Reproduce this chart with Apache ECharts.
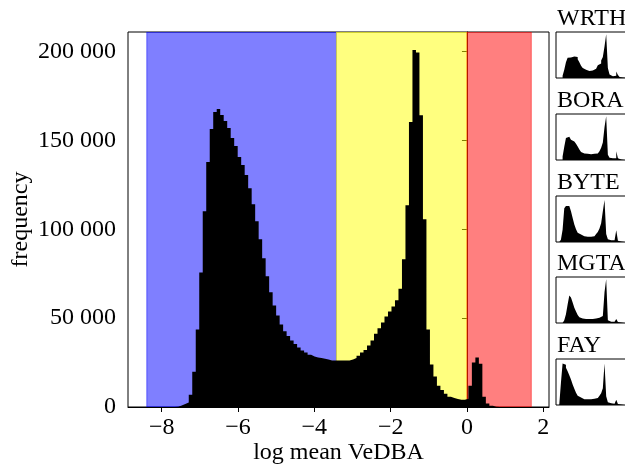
<!DOCTYPE html>
<html><head><meta charset="utf-8">
<script src="https://cdn.jsdelivr.net/npm/echarts@6/dist/echarts.min.js"></script>
<style>html,body{margin:0;padding:0;background:#fff}#c{width:625px;height:466px}</style>
</head><body><div id="c"></div>
<script>
// ---- main histogram (110 bins) ----
const binStart = -8.39;
const binWidth = 0.0916;
const counts = [
  0,0,0,0,0,0,0,0,200,800,
  1700,2600,6900,19900,43600,75700,110100,137800,156400,166000,
  167700,164300,160900,157000,151300,146800,140600,136100,130500,123100,
  114100,104500,94400,83700,73500,64600,57100,51500,46400,42600,
  40000,37400,35500,33500,31800,30600,29400,28400,27800,27600,
  27200,26700,26100,26100,26100,26100,26100,26100,26700,27600,
  28800,30600,32100,34600,37400,41200,44300,47600,50900,53700,
  56600,60000,66500,83100,113500,160300,200900,199400,164100,105600,
  43600,23900,17100,12000,9600,7500,5800,5100,4500,4100,
  4100,4700,12000,25000,27800,24400,5800,1900,700,200,
  0,0,0,0,0,0,0,0,0,0
];
// activity bands (x ranges)
const bandStarts = [-8.39, -3.42, 0.0];
const bandEnds   = [-3.42, 0.0, 1.686];
const xTicks = [-8, -6, -4, -2, 0, 2];
const yTicks = [0, 50000, 100000, 150000, 200000];

// ---- small per-individual histograms (40 bins, relative heights) ----
const panelNames = ['WRTH', 'BORA', 'BYTE', 'MGTA', 'FAY'];
const panelBinStart = -8.4;
const panelBinWidth = 0.25;
const wrth = [0,0,5,19,36,46,47,47,49,51,48,43,36,28,23,19,17,16,16,17,18,21,24,29,33,40,48,72,100,23,8,4,4,5,15,7,2,1,0,0];
const bora = [0,0,8,30,50,53,50,46,42,40,37,31,24,18,15,14,14,13,13,13,14,14,15,16,20,28,40,75,100,12,5,4,4,4,20,4,1,0,0,0];
const byte = [0,5,28,77,82,82,79,70,55,40,29,21,17,15,13,12,12,12,12,12,13,15,18,23,31,43,70,96,18,6,4,4,4,4,27,3,1,0,0,0];
const mgta = [0,0,0,6,20,42,63,58,47,35,26,18,13,10,9,9,9,9,9,9,9,10,11,12,14,16,20,70,100,6,3,3,3,3,9,2,1,0,0,0];
const fay  = [0,50,95,92,85,77,68,58,47,37,28,21,17,14,13,13,13,13,13,13,14,15,16,18,21,27,38,95,20,6,4,3,3,3,12,2,1,0,0,0];
const panelValues = [wrth, bora, byte, mgta, fay];

// ---- styling / layout ----
const FONT = "'Liberation Serif', 'DejaVu Serif', serif";
const bandColors = ['rgba(0,0,255,0.5)', 'rgba(255,255,0,0.5)', 'rgba(255,0,0,0.5)'];
const X_MIN = -8.883, X_MAX = 2.15, Y_MAX = 211000;
const panelTops = [32, 114, 196, 277, 359];

function stepData(start, w, vals) {
  const d = vals.map((v, i) => [start + i * w, v]);
  d.push([start + vals.length * w, vals[vals.length - 1]]);
  return d;
}
function fmtNum(v) {
  return String(v).replace(/\B(?=(\d{3})+(?!\d))/g, ' ');
}
function fmtX(v) {
  return v < 0 ? '\u2212' + Math.abs(v) : String(v);
}

const grids = [{ left: 128, top: 32, width: 421, height: 375, show: true, borderColor: '#000', borderWidth: 1, backgroundColor: 'transparent', containLabel: false, outerBoundsMode: 'none' }];
const xAxes = [{
  type: 'value', gridIndex: 0, min: X_MIN, max: X_MAX,
  name: 'log mean VeDBA', nameLocation: 'middle', nameGap: 34, nameMoveOverlap: false,
  nameTextStyle: { fontFamily: FONT, fontSize: 24, color: '#000' },
  axisLine: { show: true, lineStyle: { color: '#000', width: 1 } },
  axisTick: { show: true, length: 5, customValues: xTicks, lineStyle: { color: '#000' } },
  axisLabel: { customValues: xTicks, formatter: fmtX, fontFamily: FONT, fontSize: 24, color: '#000', margin: 9 },
  splitLine: { show: false }
}];
const yAxes = [{
  type: 'value', gridIndex: 0, min: 0, max: Y_MAX,
  name: 'frequency', nameLocation: 'middle', nameGap: 95, nameRotate: 90, nameMoveOverlap: false,
  nameTextStyle: { fontFamily: FONT, fontSize: 24, color: '#000' },
  axisLine: { show: true, lineStyle: { color: '#000', width: 1 } },
  axisTick: { show: true, length: 5, customValues: yTicks, lineStyle: { color: '#000' } },
  axisLabel: { customValues: yTicks, formatter: fmtNum, fontFamily: FONT, fontSize: 24, color: '#000', margin: 12 },
  splitLine: { show: false }
}];
const series = [
  {
    type: 'custom', xAxisIndex: 0, yAxisIndex: 0, z: 1, clip: true,
    data: bandStarts.map((s, i) => [s, bandEnds[i]]),
    encode: { x: [0, 1] },
    renderItem: function (params, api) {
      const p0 = api.coord([api.value(0), Y_MAX]);
      const p1 = api.coord([api.value(1), 0]);
      const c = bandColors[params.dataIndex];
      return { type: 'rect', shape: { x: p0[0], y: p0[1], width: p1[0] - p0[0], height: p1[1] - p0[1] },
               style: { fill: c, stroke: c, lineWidth: 1 } };
    }
  },
  {
    type: 'line', xAxisIndex: 0, yAxisIndex: 0, z: 2, step: 'end', symbol: 'none',
    data: stepData(binStart, binWidth, counts),
    lineStyle: { width: 0, opacity: 0 },
    areaStyle: { color: '#000', opacity: 1 }
  }
];
const graphics = [];
panelNames.forEach((name, k) => {
  const gi = k + 1;
  grids.push({ left: 556, top: panelTops[k], width: 74, height: 46, show: true, borderColor: '#000', borderWidth: 1, backgroundColor: 'transparent', containLabel: false, outerBoundsMode: 'none' });
  xAxes.push({ type: 'value', gridIndex: gi, min: X_MIN, max: X_MAX, show: false });
  yAxes.push({ type: 'value', gridIndex: gi, min: 0, max: 105, show: false });
  series.push({
    type: 'line', xAxisIndex: gi, yAxisIndex: gi, step: 'end', symbol: 'none', z: 2,
    data: stepData(panelBinStart, panelBinWidth, panelValues[k]),
    lineStyle: { width: 0, opacity: 0 },
    areaStyle: { color: '#000', opacity: 1 }
  });
  graphics.push({
    type: 'text', left: 557, top: panelTops[k] - 25,
    style: { text: name, font: '24px ' + FONT, fill: '#000' }
  });
});

const chart = echarts.init(document.getElementById('c'), null, { renderer: 'canvas' });
chart.setOption({
  animation: false,
  backgroundColor: '#fff',
  grid: grids, xAxis: xAxes, yAxis: yAxes, series: series,
  graphic: graphics
});
</script>
</body></html>
